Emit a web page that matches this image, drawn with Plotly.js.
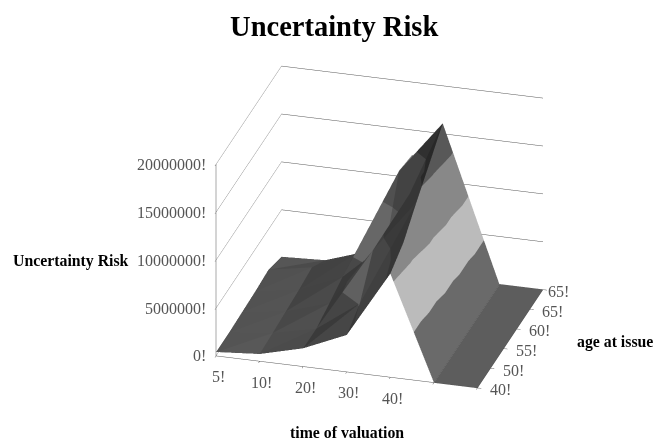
<!DOCTYPE html>
<html><head><meta charset="utf-8">
<script src="https://cdn.plot.ly/plotly-3.0.1.min.js"></script>
<style>html,body{margin:0;padding:0;background:#fff}</style></head>
<body><div id="chart" style="width:654px;height:439px"></div>
<script>
const timeLabels = ['5!','10!','20!','30!','40!','',''];
const ageLabels = ['40!','50!','55!','60!','65!','65!'];
const riskTicks = [0,5000000,10000000,15000000,20000000];
const riskLabels = ['0!','5000000!','10000000!','15000000!','20000000!'];
// uncertainty risk at each age, one list per time of valuation
const riskAt5  = [400000,400000,500000,600000,800000,100000];
const riskAt10 = [750000,900000,1100000,1300000,1600000,300000];
const riskAt20 = [1900000,1900000,2500000,3200000,3600000,1800000];
const riskAt30 = [3850000,5100000,8600000,7200000,12800000,12400000];
const riskAt40 = [10800000,12000000,14200000,16200000,18300000,10000000];
const riskAtA  = [0,0,0,0,0,0];
const riskAtB  = [0,0,0,0,0,0];
const risk = [riskAt5,riskAt10,riskAt20,riskAt30,riskAt40,riskAtA,riskAtB];
const bandSize = 5000000;
const bandDark  = [0x38,0x40,0x36,0x28];
const bandLight = [0x6a,0xbb,0x88,0x58];
const aspect = {x:1.2825,y:1.125,z:1.0};

const nT=risk.length,nA=ageLabels.length;
const xs=[],ys=[],zs=[],ii=[],jj=[],kk=[],fc=[];
function shade(A,B,C){
  const s=[aspect.x/(nT-1),aspect.y/(nA-1),aspect.z/20000000];
  const u=[0,1,2].map(d=>(B[d]-A[d])*s[d]),v=[0,1,2].map(d=>(C[d]-A[d])*s[d]);
  let n=[u[1]*v[2]-u[2]*v[1],u[2]*v[0]-u[0]*v[2],u[0]*v[1]-u[1]*v[0]];
  const l=Math.hypot(...n);n=n.map(c=>c/l);if(n[2]<0)n=n.map(c=>-c);
  return Math.pow(Math.max(0,Math.min(1,(n[0]-.3*n[1]+.7)/.85)),1.5);
}
function clip(poly,lim,sign){
  const out=[];
  poly.forEach((P,i)=>{const Q=poly[(i+1)%poly.length];
    const a=sign*(P[2]-lim),b=sign*(Q[2]-lim);
    if(a>=0)out.push(P);
    if(a*b<0){const t=a/(a-b);out.push([0,1,2].map(d=>P[d]+(Q[d]-P[d])*t));}
  });
  return out;
}
function addTri(A,B,C){
  const g=shade(A,B,C);
  bandDark.forEach((d,n)=>{
    let poly=clip([A,B,C],n*bandSize,1);
    if(n<bandDark.length-1&&poly.length)poly=clip(poly,(n+1)*bandSize,-1);
    if(poly.length<3)return;
    const c=Math.round(d+(bandLight[n]-d)*g);const col='rgb('+c+','+c+','+c+')';
    const base=xs.length;
    poly.forEach(P=>{xs.push(P[0]);ys.push(P[1]);zs.push(P[2]);});
    for(let m=1;m<poly.length-1;m++){ii.push(base);jj.push(base+m);kk.push(base+m+1);fc.push(col);}
  });
}
const V=(t,a)=>[t,a,risk[t][a]];
for(let t=0;t<nT-1;t++)for(let a=0;a<nA-1;a++){
  addTri(V(t,a),V(t+1,a),V(t+1,a+1));addTri(V(t,a),V(t+1,a+1),V(t,a+1));
}

const lab='#555555', serif='"Liberation Serif","DejaVu Serif",serif';
const ann=[];
timeLabels.forEach((t,i)=>{if(t)ann.push({x:i,y:0,z:0,text:t,showarrow:false,yshift:-21,xshift:2,font:{family:serif,size:16,color:lab}});});
ageLabels.forEach((t,i)=>ann.push({x:nT-1,y:i,z:0,text:t,showarrow:false,xshift:i==nA-1?16:23,yshift:-2,font:{family:serif,size:16,color:lab}}));
riskTicks.forEach((v,i)=>ann.push({x:0,y:0,z:v,text:riskLabels[i],showarrow:false,xanchor:'right',xshift:-8,font:{family:serif,size:16,color:lab}}));

const axisBase={showbackground:false,showspikes:false,zeroline:false,showticklabels:false,title:{text:''},
  linecolor:'#555',linewidth:1,showline:true,ticks:'outside',tickcolor:'#555',ticklen:4};
const titleFont={family:serif,size:15.8,color:'#000'};
Plotly.newPlot('chart',[{type:'mesh3d',x:xs,y:ys,z:zs,i:ii,j:jj,k:kk,facecolor:fc,
  showscale:false,flatshading:true,hoverinfo:'skip',
  lighting:{ambient:1,diffuse:0,specular:0,roughness:1,fresnel:0}}],{
  width:654,height:439,margin:{l:0,r:0,t:0,b:0},paper_bgcolor:'#fff',showlegend:false,
  title:{text:'<b>Uncertainty Risk</b>',x:0.511,xanchor:'center',y:0.94,yanchor:'middle',font:{family:serif,size:28.5,color:'#000'}},
  annotations:[
   {xref:'paper',yref:'paper',x:71/654,xanchor:'center',y:1-261/439,yanchor:'middle',text:'<b>Uncertainty Risk</b>',showarrow:false,font:titleFont},
   {xref:'paper',yref:'paper',x:347/654,xanchor:'center',y:1-432/439,yanchor:'middle',text:'<b>time of valuation</b>',showarrow:false,font:titleFont},
   {xref:'paper',yref:'paper',x:615/654,xanchor:'center',y:1-342/439,yanchor:'middle',text:'<b>age at issue</b>',showarrow:false,font:titleFont}
  ],
  scene:{domain:{x:[105/654,1],y:[0,1-15/439]},
   aspectmode:'manual',aspectratio:aspect,
   camera:{projection:{type:'orthographic'},center:{x:0,y:0,z:0},up:{x:0,y:0,z:1},eye:{x:.62,y:-2.17,z:1.07}},
   xaxis:Object.assign({},axisBase,{range:[0,nT-1],tickvals:timeLabels.map((_,i)=>i),showgrid:false}),
   yaxis:Object.assign({},axisBase,{range:[0,nA-1],tickvals:ageLabels.map((_,i)=>i),showgrid:false}),
   zaxis:Object.assign({},axisBase,{range:[0,20000000],tickvals:riskTicks,showgrid:true,gridcolor:'#555',gridwidth:1}),
   annotations:ann}
 },{displayModeBar:false});
</script></body></html>
